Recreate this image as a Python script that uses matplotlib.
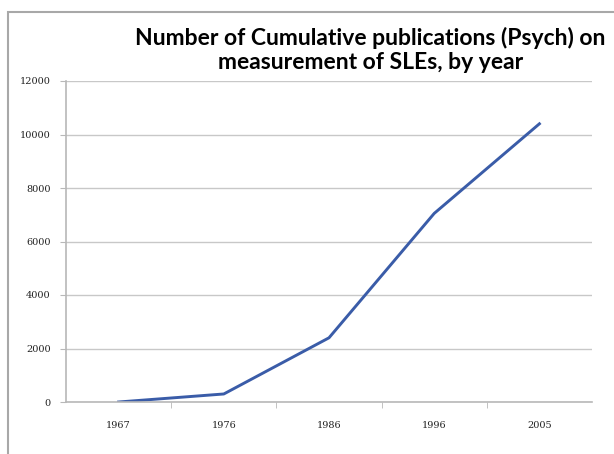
import numpy as np
import matplotlib.pyplot as plt
from matplotlib.patches import Rectangle

# data
years = ['1967', '1976', '1986', '1996', '2005']
pubs = [0, 300, 2400, 7050, 10400]

fig = plt.figure(figsize=(6.14, 4.54), dpi=100)

# chart border
fig.patches.append(Rectangle((8 / 614, -0.1), 1.2, (454 - 12) / 454 + 0.1,
                             transform=fig.transFigure, fill=False,
                             edgecolor='#a8a8a8', linewidth=1.5))

ax = fig.add_axes([66 / 614, 52 / 454, 526 / 614, 321 / 454])
x = np.arange(len(years))
ax.plot(x, pubs, color='#3a5ca8', linewidth=2.1)

ax.set_xlim(-0.5, len(years) - 0.5)
ax.set_ylim(0, 12000)
ax.set_yticks(range(0, 12001, 2000))
ax.set_xticks(x)
ax.set_xticklabels(years)
ax.set_xticks(np.arange(0.5, len(years) - 0.5, 1), minor=True)

ax.grid(axis='y', color='#c8c8c8', linewidth=1)
ax.set_axisbelow(True)
for s in ['top', 'right']:
    ax.spines[s].set_visible(False)
for s in ['left', 'bottom']:
    ax.spines[s].set_color('#b8b8b8')
    ax.spines[s].set_linewidth(1.2)

ax.tick_params(axis='y', length=4, color='#b8b8b8', labelsize=7,
               labelcolor='#222222', pad=7)
ax.tick_params(axis='x', which='major', length=0, labelsize=7,
               labelcolor='#222222', pad=14)
ax.tick_params(axis='x', which='minor', length=4, color='#b8b8b8')
for lab in ax.get_xticklabels() + ax.get_yticklabels():
    lab.set_family('DejaVu Serif')

fig.text(0.603, 0.89, 'Number of Cumulative publications (Psych) on\nmeasurement of SLEs, by year',
         ha='center', va='center', fontsize=16.5, fontweight='bold',
         family='Lato', linespacing=1.18)

fig.savefig('out.png', dpi=100)
